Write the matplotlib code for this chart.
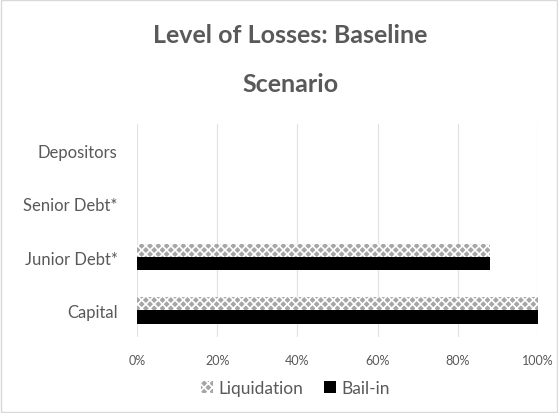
import numpy as np
import matplotlib
matplotlib.use("Agg")
from matplotlib import pyplot as plt
from matplotlib.patches import Rectangle

categories = ["Capital", "Junior Debt*", "Senior Debt*", "Depositors"]
liquidation = [100, 88, 0, 0]
bail_in = [100, 88, 0, 0]
xticks = [0, 20, 40, 60, 80, 100]

plt.rcParams['font.family'] = ['Lato', 'DejaVu Sans']
plt.rcParams['hatch.linewidth'] = 1.2
grey = '#595959'

fig = plt.figure(figsize=(5.58, 4.14), dpi=100)
ax = fig.add_axes([0.2455, 0.1836, 0.7185, 0.5144])

y = np.arange(len(categories))
h = 0.25
ax.barh(y + h / 2, liquidation, height=h, color='#a6a6a6', edgecolor='white',
        hatch='xxxx', linewidth=0, label='Liquidation', zorder=3)
ax.barh(y - h / 2, bail_in, height=h, color='black', linewidth=0,
        label='Bail-in', zorder=3)

ax.set_xlim(0, 100)
ax.set_ylim(-0.5, 3.5)
ax.set_yticks(y)
ax.set_yticklabels(categories, fontsize=12, color=grey)
ax.set_xticks(xticks)
ax.set_xticklabels([f"{t}%" for t in xticks], fontsize=9, color=grey)
ax.tick_params(axis='both', length=0)
ax.tick_params(axis='y', pad=14)
ax.tick_params(axis='x', pad=12)
ax.grid(axis='x', color='#e3e3e3', linewidth=0.9, zorder=0)
for s in ax.spines.values():
    s.set_visible(False)

fig.text(0.52, 0.915, "Level of Losses: Baseline", ha='center', va='center',
         fontsize=18, fontweight='bold', color=grey)
fig.text(0.52, 0.795, "Scenario", ha='center', va='center',
         fontsize=18, fontweight='bold', color=grey)

leg = fig.legend(loc='center', bbox_to_anchor=(0.53, 0.06), ncol=2, frameon=False,
                 fontsize=12.5, handlelength=0.7, handleheight=0.7, handletextpad=0.3,
                 columnspacing=1.2)
for t in leg.get_texts():
    t.set_color(grey)

fig.patches.append(Rectangle((0.002, 0.002), 0.996, 0.996, transform=fig.transFigure,
                             fill=False, edgecolor='#d9d9d9', linewidth=1))

fig.savefig('out.png', dpi=100)
